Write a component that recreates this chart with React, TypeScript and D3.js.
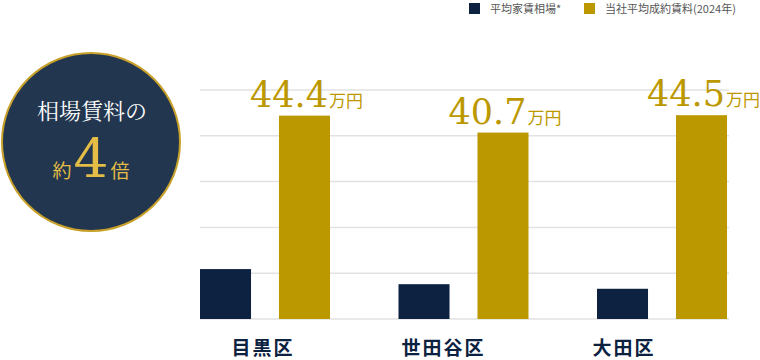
import React from "react";
import * as d3 from "d3";

const categories = ["目黒区", "世田谷区", "大田区"];
const seriesNames = ["平均家賃相場*", "当社平均成約賃料(2024年)"];
const marketRent = [10.9, 7.6, 6.6];
const companyRent = [44.4, 40.7, 44.5];
const valueLabels = ["44.4", "40.7", "44.5"];
const gridTicks = [0, 10, 20, 30, 40, 50];

const NAVY = "#0c2240";
const GOLD = "#bc9800";
const CIRCLE = "#22364f";
const SERIF = "'DejaVu Serif', 'Liberation Serif', serif";

export default function App() {
  const W = 760, H = 360;
  const y = d3.scaleLinear().domain([0, 50]).range([319, 90]);
  const x0 = d3.scaleBand<string>().domain(categories).range([200, 795.5]).paddingInner(0).paddingOuter(0);
  const x1 = d3.scaleBand<string>().domain(seriesNames).range([0, 130]).paddingInner(0.354).paddingOuter(0);
  const xl = d3.scalePoint<string>().domain(categories).range([263, 624]);
  const colors = [NAVY, GOLD];
  const series = [marketRent, companyRent];

  return (
    <svg width={W} height={H} style={{ position: "absolute", left: 0, top: 0, background: "#fff" }}>
      {/* legend */}
      <g fontFamily="'Noto Sans CJK JP', 'Noto Sans', sans-serif" fontSize={11} fill="#555">
        <rect x={469} y={3} width={11} height={11} fill={NAVY} />
        <text x={490} y={13}>{seriesNames[0]}</text>
        <rect x={584} y={3} width={11} height={11} fill={GOLD} />
        <text x={605} y={13}>{seriesNames[1]}</text>
      </g>

      {/* circle */}
      <circle cx={91} cy={142} r={89} fill={CIRCLE} stroke="#c8a12a" strokeWidth={2} />
      <text x={92} y={119} textAnchor="middle" fill="#fff" fontSize={22}
        fontFamily="'Noto Serif CJK JP', 'Noto Sans CJK JP', serif">相場賃料の</text>
      <text x={91} y={178} textAnchor="middle" fill="#e3bd45" fontFamily={SERIF}>
        <tspan fontSize={19} fontFamily="'Noto Sans CJK JP', sans-serif">約</tspan>
        <tspan fontSize={55} dx={2}>4</tspan>
        <tspan fontSize={19} dx={2} fontFamily="'Noto Sans CJK JP', sans-serif">倍</tspan>
      </text>

      {/* grid */}
      {gridTicks.map((t) => (
        <line key={t} x1={200} x2={729} y1={y(t)} y2={y(t)} stroke="#e2e2e2" strokeWidth={1.5} />
      ))}

      {/* bars */}
      {categories.map((c, i) => (
        <g key={c} transform={`translate(${x0(c)},0)`}>
          {seriesNames.map((s, j) => (
            <rect key={s} x={x1(s)} y={y(series[j][i])} width={x1.bandwidth()}
              height={y(0) - y(series[j][i])} fill={colors[j]} />
          ))}
          <text x={(x1(seriesNames[1]) as number) + x1.bandwidth() + 33} y={y(companyRent[i]) - 9}
            textAnchor="end" fill={GOLD} fontFamily={SERIF}>
            <tspan fontSize={35}>{valueLabels[i]}</tspan>
            <tspan fontSize={17} fontFamily="'Noto Sans CJK JP', serif" dx={1}>万円</tspan>
          </text>
        </g>
      ))}

      {/* category labels */}
      {categories.map((c) => (
        <text key={c} x={xl(c)} y={355} textAnchor="middle" fill={NAVY} fontSize={19} fontWeight={700}
          letterSpacing={2} fontFamily="'Noto Sans CJK JP', sans-serif">{c}</text>
      ))}
    </svg>
  );
}
